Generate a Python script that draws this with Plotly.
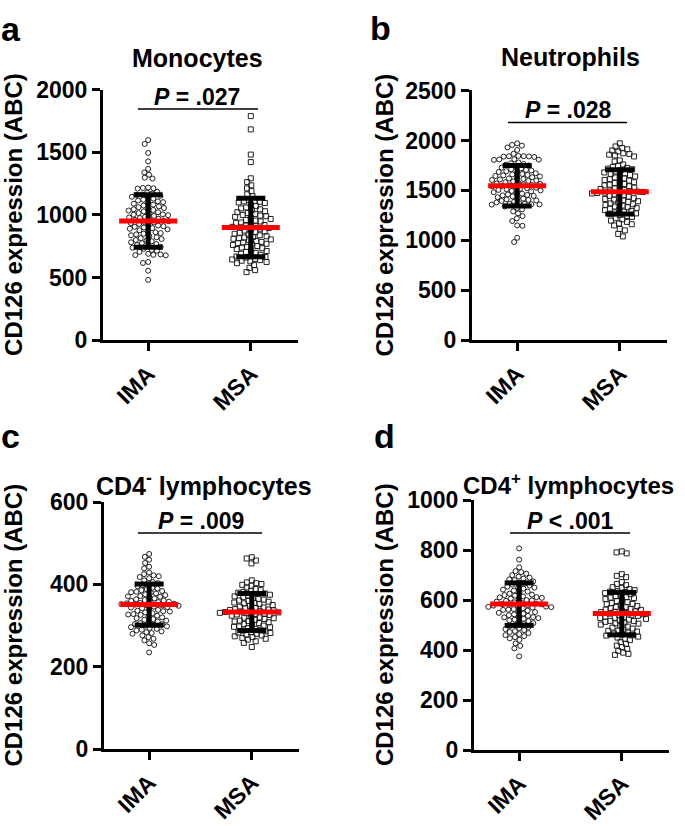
import numpy as np
import plotly.graph_objects as go

W, H = 685, 826

groups = ["IMA", "MSA"]
panel_letters = ["a", "b", "c", "d"]
panel_titles = ["Monocytes", "Neutrophils", "CD4<sup>-</sup> lymphocytes", "CD4<sup>+</sup> lymphocytes"]
p_texts = ["<i>P</i> = .027", "<i>P</i> = .028", "<i>P</i> = .009", "<i>P</i> < .001"]
y_title = "CD126 expression (ABC)"
y_max = [2000, 2500, 600, 1000]
y_dtick = [500, 500, 200, 200]

means = [[952, 900], [1547, 1486], [351, 333], [584, 546]]
sds = [[209, 233], [202, 221], [50, 45], [85, 85]]

mono_ima = [1597, 1566, 1494, 1427, 1367, 1339, 1321, 1297, 1290, 1218, 1215, 1213, 1210,
            1185, 1178, 1170, 1163, 1160, 1152,
            1145, 1138, 1130, 1122, 1115, 1108, 1102,
            1095, 1090, 1082, 1075, 1068, 1062, 1055, 1050,
            1045, 1040, 1035, 1028, 1022, 1015, 1010, 1005, 1002,
            998, 992, 985, 980, 975, 970, 965, 960, 955, 950,
            945, 940, 935, 928, 922, 915, 910, 905, 900,
            895, 890, 885, 878, 870, 862, 855, 850,
            845, 838, 830, 822, 815, 808, 800,
            795, 790, 782, 775, 768, 760, 752, 745,
            738, 730, 722, 715, 705,
            690, 685, 682, 680, 678, 625, 617, 555, 482]
mono_msa = [1788, 1682, 1481, 1421, 1292, 1262, 1236, 1212, 1190, 1165, 1150,
            1120, 1112, 1108, 1105, 1100, 1095,
            1080, 1070, 1060, 1052, 1045, 1040, 1030,
            1022, 1015, 1008, 1000, 995, 990, 985,
            975, 968, 960, 955, 948, 940, 935,
            928, 920, 915, 910, 905, 900, 895, 890,
            882, 875, 868, 862, 858, 850, 845,
            838, 830, 825, 820, 815, 810, 805, 800,
            792, 785, 780, 775, 770, 765, 760,
            752, 745, 740, 735, 728, 720, 712,
            705, 698, 690, 682, 675, 668, 665, 660,
            650, 645, 640, 635, 630, 625, 615, 600, 578, 560, 544]
neut_ima = [1971, 1955, 1948, 1930, 1905, 1867, 1845, 1843, 1842, 1840, 1838, 1835, 1812, 1810, 1808, 1805,
            1780, 1772, 1765, 1758, 1750,
            1735, 1728, 1720, 1712, 1705, 1700,
            1692, 1685, 1680, 1672, 1665, 1660, 1655, 1650,
            1645, 1640, 1632, 1625, 1620, 1615, 1610, 1605, 1600,
            1595, 1590, 1582, 1575, 1570, 1565, 1560, 1555, 1550,
            1545, 1540, 1535, 1528, 1522, 1515, 1510, 1505, 1500,
            1495, 1490, 1482, 1475, 1468, 1460, 1455, 1450,
            1445, 1440, 1432, 1425, 1418, 1410, 1405, 1400,
            1395, 1388, 1380, 1372, 1368, 1365, 1362, 1360, 1358,
            1340, 1325, 1310, 1290, 1270, 1243, 1220, 1194, 1150, 1146, 1026, 984]
neut_msa = [1971, 1940, 1925, 1912, 1900, 1890, 1872, 1865, 1858, 1850, 1840,
            1800, 1790, 1760, 1745, 1735, 1725, 1718, 1712,
            1700, 1690, 1680, 1672, 1665, 1655, 1648, 1640,
            1630, 1620, 1612, 1605, 1598, 1590, 1582, 1575,
            1565, 1558, 1550, 1542, 1535, 1528, 1520, 1515,
            1505, 1498, 1492, 1488, 1485, 1482, 1478, 1475, 1470,
            1460, 1452, 1445, 1438, 1430, 1422, 1415, 1408, 1400,
            1392, 1385, 1378, 1370, 1362, 1355, 1348, 1340,
            1332, 1325, 1318, 1310, 1302, 1295, 1288, 1280,
            1270, 1262, 1255, 1245, 1235, 1222, 1210, 1198, 1185,
            1170, 1162, 1150, 1114, 1100, 1065, 1040]
cd4neg_ima = [474, 467, 460, 452, 443, 439, 429, 425, 422, 420, 418, 415,
              410, 406, 403, 400, 398, 396,
              392, 390, 388, 386, 384, 382, 380, 378,
              376, 374, 372, 370, 368, 366, 364, 362, 360,
              358, 357, 356, 355, 354, 353, 352, 351, 350, 349, 348,
              346, 344, 342, 340, 338, 336, 334, 332, 330,
              328, 326, 324, 322, 320, 318, 316, 314, 312,
              310, 308, 306, 304, 302, 300, 298, 296,
              294, 292, 290, 288, 286, 284, 282, 280,
              276, 272, 268, 264, 257, 253, 235,
              361, 345, 335, 371, 381, 327, 303]
cd4neg_msa = [466, 463, 458, 451,
              410, 405, 403, 401, 399, 397,
              392, 389, 386, 384, 382, 380, 378,
              375, 373, 371, 369, 367, 365, 363, 361,
              358, 356, 354, 352, 350, 348, 346, 344, 342,
              340, 338, 337, 336, 335, 334, 333, 332, 331, 330,
              328, 326, 324, 322, 320, 318, 316, 314, 312,
              310, 308, 306, 304, 302, 300, 298, 296,
              294, 292, 290, 288, 286, 284, 282, 280,
              278, 276, 274, 272, 270, 268, 266, 262, 258, 248,
              343, 327, 319, 311, 355, 360, 377, 297, 283, 339, 329]
cd4pos_ima = [807, 762, 731, 716, 712, 706, 700, 694, 690, 686, 683, 680,
              675, 670, 666, 662, 658, 654, 650,
              646, 642, 638, 634, 630, 626, 622, 618,
              615, 612, 609, 606, 603, 600, 597, 594, 591,
              588, 586, 584, 582, 580, 578, 576, 574, 572, 570,
              567, 564, 561, 558, 555, 552, 549, 546, 543,
              540, 537, 534, 531, 528, 525, 522, 519, 516,
              512, 508, 504, 500, 496, 492, 488,
              484, 480, 476, 472, 468, 464, 460, 456, 452, 447, 441, 427, 417, 407, 375,
              611, 599, 583, 573, 562, 532, 650, 620]
cd4pos_msa = [795, 791, 787, 704, 697, 692, 672, 665, 660,
              652, 648, 644, 640, 636, 632, 628,
              624, 620, 616, 612, 608, 604, 600,
              596, 592, 588, 584, 580, 576, 572, 568,
              564, 561, 558, 555, 552, 549, 546, 543, 540,
              537, 534, 531, 528, 525, 522, 519, 516, 513,
              510, 506, 502, 498, 494, 490, 486, 482,
              478, 474, 470, 466, 462, 458, 454, 450,
              445, 440, 432, 425, 418, 412, 405, 397, 390, 385, 381,
              562, 553, 541, 529, 517, 507, 585, 573, 477, 459, 610, 634]

panel_data = [[mono_ima, mono_msa], [neut_ima, neut_msa],
              [cd4neg_ima, cd4neg_msa], [cd4pos_ima, cd4pos_msa]]

# ---- layout geometry (pixels) ----
boxes = [(103, 298, 79, 338), (472, 667, 80, 338), (104, 299, 505, 760), (474, 669, 503, 761)]
X_RANGE = [-0.44, 1.46]
title_pos = [(197, 46), (570, 45), (204, 486), (568, 486)]
title_size = [25, 25, 25, 24]
p_pos = [(197, 87), (568, 100), (201, 524), (570, 524)]
p_line = [(138, 258, 99), (508, 627, 113), (138, 262, 537), (510, 630, 537)]
letter_pos = [(11, 17), (380, 16), (10, 437), (384, 437)]
ytitle_x = [14, 384, 14, 384]

FONT = "Liberation Sans, Arial, Helvetica, sans-serif"


def px(x):
    return x / W


def py(y):
    return 1 - y / H


def swarm(vals, ppu, d):
    vals = np.asarray(vals, float)
    order = np.argsort(-vals, kind="stable")
    placed = []
    out = np.zeros(len(vals))
    for i in order:
        y = vals[i] * ppu
        cands = [0.0]
        for xj, yj in placed:
            dy = abs(y - yj)
            if dy < d:
                dx = np.sqrt(d * d - dy * dy)
                cands += [xj + dx, xj - dx]
        cands.sort(key=lambda c: (abs(c), c))
        chosen = 0.0
        for c in cands:
            if all((c - xj) ** 2 + (y - yj) ** 2 >= d * d - 1e-6 for xj, yj in placed):
                chosen = c
                break
        out[i] = chosen
        placed.append((chosen, y))
    return out


fig = go.Figure()
annotations = []
shapes = []
for k in range(4):
    l, r, t, b = boxes[k]
    ax = "" if k == 0 else str(k + 1)
    xa, ya = "x" + ax, "y" + ax
    ppu_y = (b - t) / y_max[k]
    ppu_x = (r - l) / (X_RANGE[1] - X_RANGE[0])
    for g in range(2):
        vals = panel_data[k][g]
        offs = swarm(vals, ppu_y, 5.3)
        fig.add_trace(go.Scatter(
            x=g + offs / ppu_x, y=vals, mode="markers", xaxis=xa, yaxis=ya,
            marker=dict(symbol="circle-open" if g == 0 else "square-open", size=5,
                        color="#222222", line=dict(width=1, color="#222222")),
            hoverinfo="y", showlegend=False))
    for g in range(2):
        m, s = means[k][g], sds[k][g]
        cw = 14.5 / ppu_x
        mw = 29 / ppu_x
        fig.add_trace(go.Scatter(x=[g, g], y=[m - s, m + s], mode="lines", xaxis=xa, yaxis=ya,
                                 line=dict(color="black", width=5), showlegend=False, hoverinfo="skip"))
        for yy in (m - s, m + s):
            fig.add_trace(go.Scatter(x=[g - cw, g + cw], y=[yy, yy], mode="lines", xaxis=xa, yaxis=ya,
                                     line=dict(color="black", width=5), showlegend=False, hoverinfo="skip"))
        fig.add_trace(go.Scatter(x=[g - mw, g + mw], y=[m, m], mode="lines", xaxis=xa, yaxis=ya,
                                 line=dict(color="#ff0000", width=5), showlegend=False, hoverinfo="skip"))

    axis_common = dict(showline=True, linecolor="black", linewidth=3, ticks="outside",
                       ticklen=8, tickwidth=3, tickcolor="black", showgrid=False, zeroline=False,
                       tickfont=dict(family=FONT, size=23, color="black", weight="bold"))
    fig.layout["xaxis" + ax] = dict(domain=[px(l), px(r)], range=X_RANGE, anchor=ya,
                                    tickvals=[0, 1], ticktext=groups, tickangle=-45, **axis_common)
    fig.layout["yaxis" + ax] = dict(domain=[py(b), py(t)], range=[0, y_max[k]], anchor=xa,
                                    tickmode="linear", tick0=0, dtick=y_dtick[k], **axis_common)

    annotations.append(dict(x=px(title_pos[k][0]), y=py(title_pos[k][1]), xref="paper", yref="paper",
                            text="<b>" + panel_titles[k] + "</b>", showarrow=False,
                            font=dict(family=FONT, size=title_size[k], color="black"),
                            xanchor="center", yanchor="middle"))
    annotations.append(dict(x=px(p_pos[k][0]), y=py(p_pos[k][1]), xref="paper", yref="paper",
                            text="<b>" + p_texts[k] + "</b>", showarrow=False,
                            font=dict(family=FONT, size=23, color="black"), xanchor="center", yanchor="middle"))
    annotations.append(dict(x=px(letter_pos[k][0]), y=py(letter_pos[k][1]), xref="paper", yref="paper",
                            text="<b>" + panel_letters[k] + "</b>", showarrow=False,
                            font=dict(family=FONT, size=34, color="black"), xanchor="center", yanchor="middle"))
    annotations.append(dict(x=px(ytitle_x[k]), y=py((t + b) / 2), xref="paper", yref="paper",
                            text="<b>" + y_title + "</b>", showarrow=False, textangle=-90,
                            font=dict(family=FONT, size=24, color="black"), xanchor="center", yanchor="middle"))
    x0, x1, yl = p_line[k]
    shapes.append(dict(type="line", xref="paper", yref="paper", x0=px(x0), x1=px(x1), y0=py(yl), y1=py(yl),
                       line=dict(color="black", width=1.5)))

fig.update_layout(width=W, height=H, margin=dict(l=0, r=0, t=0, b=0),
                  plot_bgcolor="white", paper_bgcolor="white", showlegend=False,
                  annotations=annotations, shapes=shapes)
fig.write_html("out.html", config={"displayModeBar": False},
               post_script="document.body.style.margin='0';document.body.style.overflow='hidden';")
